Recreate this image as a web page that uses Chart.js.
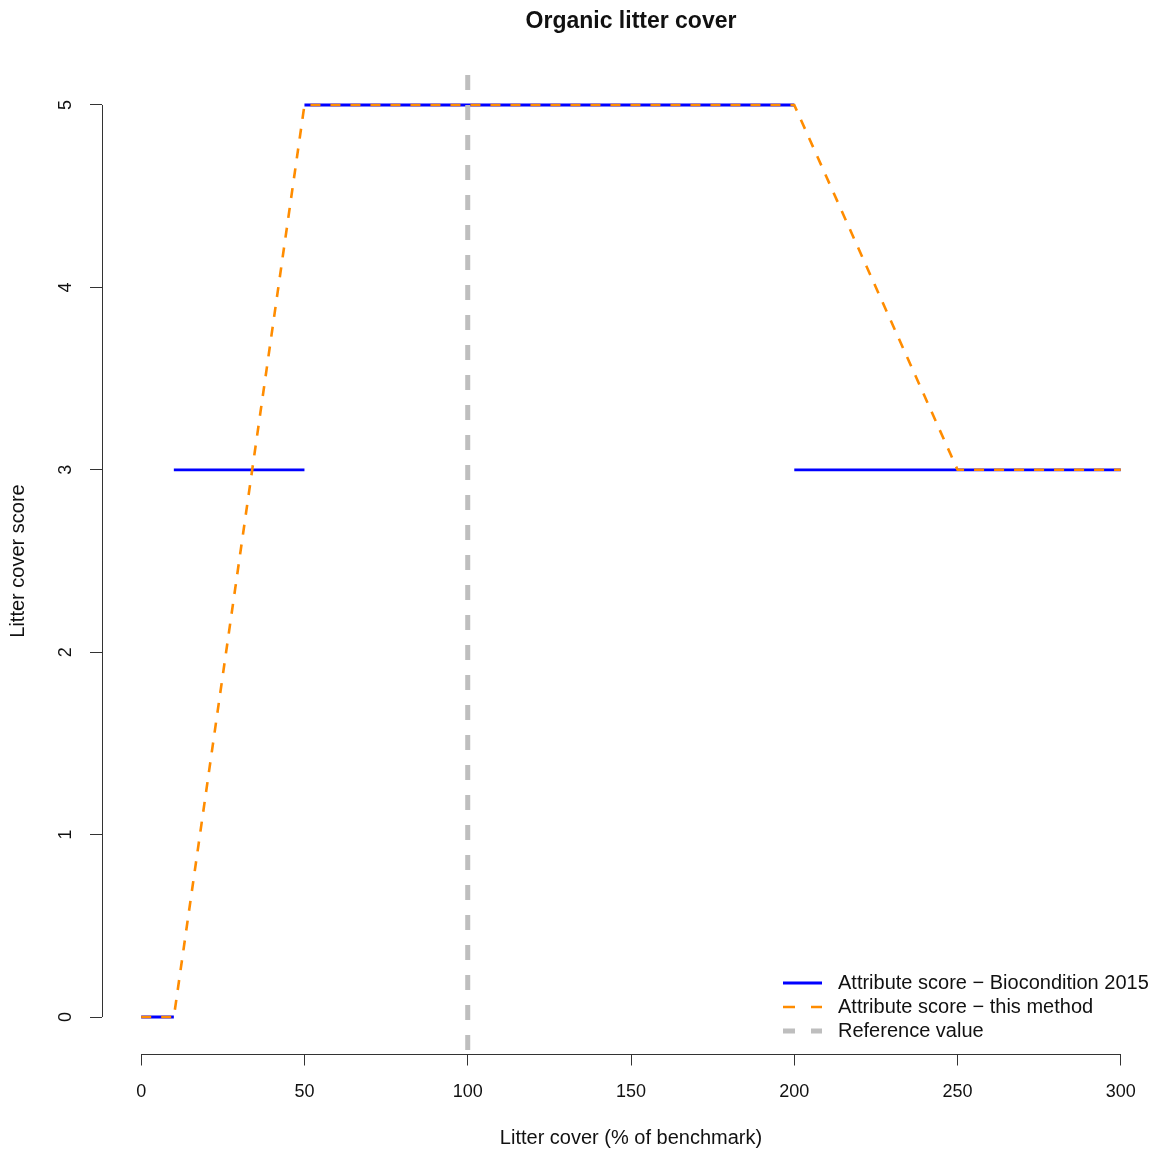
<!DOCTYPE html>
<html>
  <head>
    <title>Organic litter cover</title>
    <script src="https://cdn.jsdelivr.net/npm/chart.js"></script>
    <style>
      html,
      body {
        margin: 0;
        padding: 0;
        background: #ffffff;
      }
      .wrap {
        width: 1160px;
        height: 1155px;
      }
    </style>
  </head>

  <body>
    <div class="wrap">
      <canvas id="myChart" width="1160" height="1155"></canvas>
    </div>

    <script>
      // data
      const xTicks = [0, 50, 100, 150, 200, 250, 300];
      const yTicks = [0, 1, 2, 3, 4, 5];

      // Biocondition 2015 score is a step function (null = break in line)
      const bioX = [0, 10, null, 10, 50, null, 50, 200, null, 200, 300];
      const bioY = [0, 0, null, 3, 3, null, 5, 5, null, 3, 3];

      // this method: piecewise linear
      const methodX = [0, 10, 50, 200, 250, 300];
      const methodY = [0, 0, 5, 5, 3, 3];

      const referenceValue = 100;

      const xMin = -12, xMax = 312;
      const yMin = -0.2, yMax = 5.2;

      const fontFamily = "'Liberation Sans', Arial, Helvetica, sans-serif";
      const ink = "#111111";

      const toPoints = (xs, ys) =>
        xs.map((x, i) => (x === null ? { x: NaN, y: null } : { x: x, y: ys[i] }));

      const data = {
        datasets: [
          {
            label: "Attribute score \u2212 Biocondition 2015",
            data: toPoints(bioX, bioY),
            borderColor: "#0000ff",
            borderWidth: 2.8,
            borderDash: [],
            order: 2,
          },
          {
            label: "Attribute score \u2212 this method",
            data: toPoints(methodX, methodY),
            borderColor: "#ff8c00",
            borderWidth: 2.6,
            borderDash: [10, 10],
            order: 1,
          },
          {
            label: "Reference value",
            data: [
              { x: referenceValue, y: yMax },
              { x: referenceValue, y: yMin },
            ],
            borderColor: "#bebebe",
            borderWidth: 5,
            borderDash: [15, 15],
            borderDashOffset: -6.5,
            order: 0,
          },
        ],
      };

      // R-style axes: line from first to last tick, rotated y labels, legend
      const rAxes = {
        id: "rAxes",
        beforeDatasetsDraw(chart) {
          const { ctx, chartArea, scales } = chart;
          const x = scales.x, y = scales.y;
          ctx.save();
          ctx.strokeStyle = "#333333";
          ctx.lineWidth = 1;
          ctx.beginPath();
          const by = Math.round(chartArea.bottom) + 0.5;
          ctx.moveTo(x.getPixelForValue(xTicks[0]), by);
          ctx.lineTo(x.getPixelForValue(xTicks[xTicks.length - 1]), by);
          const lx = Math.round(chartArea.left) + 0.5;
          ctx.moveTo(lx, y.getPixelForValue(yTicks[0]));
          ctx.lineTo(lx, y.getPixelForValue(yTicks[yTicks.length - 1]));
          ctx.stroke();

          ctx.fillStyle = ink;
          ctx.font = "18px " + fontFamily;
          ctx.textAlign = "center";
          ctx.textBaseline = "middle";
          yTicks.forEach((v) => {
            ctx.save();
            ctx.translate(chartArea.left - 36, y.getPixelForValue(v));
            ctx.rotate(-Math.PI / 2);
            ctx.fillText(String(v), 0, 0);
            ctx.restore();
          });
          ctx.restore();
        },
        afterDraw(chart) {
          const { ctx, chartArea } = chart;
          const lineX0 = chartArea.right - 377;
          const lineX1 = chartArea.right - 338;
          const textX = chartArea.right - 322;
          const rowY0 = chartArea.bottom - 70.5;
          ctx.save();
          ctx.font = "20px " + fontFamily;
          ctx.textAlign = "left";
          ctx.textBaseline = "middle";
          chart.data.datasets.forEach((ds, i) => {
            const yy = rowY0 + i * 24;
            ctx.strokeStyle = ds.borderColor;
            ctx.lineWidth = ds.borderWidth;
            ctx.setLineDash(ds.borderDash.length ? [12, 16] : []);
            ctx.beginPath();
            ctx.moveTo(lineX0, yy);
            ctx.lineTo(lineX1, yy);
            ctx.stroke();
            ctx.setLineDash([]);
            ctx.fillStyle = ink;
            ctx.fillText(ds.label, textX, yy);
          });
          ctx.restore();
        },
      };

      const config = {
        type: "scatter",
        data: data,
        options: {
          responsive: false,
          animation: false,
          showLine: true,
          spanGaps: false,
          elements: {
            point: { radius: 0, hoverRadius: 0 },
            line: { tension: 0, borderCapStyle: "butt" },
          },
          layout: { padding: 0 },
          plugins: {
            legend: { display: false },
            tooltip: { enabled: false },
            title: {
              display: true,
              text: "Organic litter cover",
              fullSize: false,
              color: ink,
              font: { size: 23, weight: "bold", family: fontFamily, lineHeight: 1.2 },
              padding: { top: 8, bottom: 32.9 },
            },
          },
          scales: {
            x: {
              type: "linear",
              min: xMin,
              max: xMax,
              afterBuildTicks: (s) => {
                s.ticks = xTicks.map((v) => ({ value: v }));
              },
              afterFit: (s) => {
                s.height = 101.5;
              },
              border: { display: false },
              grid: {
                drawOnChartArea: false,
                drawTicks: true,
                tickLength: 12,
                color: "#333333",
                lineWidth: 1,
              },
              ticks: {
                color: ink,
                padding: 16,
                maxRotation: 0,
                font: { size: 18, family: fontFamily },
              },
              title: {
                display: true,
                text: "Litter cover (% of benchmark)",
                color: ink,
                font: { size: 20, family: fontFamily, lineHeight: 1.2 },
                padding: { top: 4, bottom: 5 },
              },
            },
            y: {
              type: "linear",
              min: yMin,
              max: yMax,
              afterBuildTicks: (s) => {
                s.ticks = yTicks.map((v) => ({ value: v }));
              },
              afterFit: (s) => {
                s.width = 102;
              },
              border: { display: false },
              grid: {
                drawOnChartArea: false,
                drawTicks: true,
                tickLength: 12,
                color: "#333333",
                lineWidth: 1,
              },
              ticks: { display: false },
              title: {
                display: true,
                text: "Litter cover score",
                color: ink,
                font: { size: 20, family: fontFamily, lineHeight: 1.2 },
                padding: { top: 6, bottom: 0 },
              },
            },
          },
        },
        plugins: [rAxes],
      };
    </script>

    <script>
      Chart.defaults.font.family = fontFamily;
      const myChart = new Chart(document.getElementById("myChart"), config);
    </script>
  </body>
</html>
